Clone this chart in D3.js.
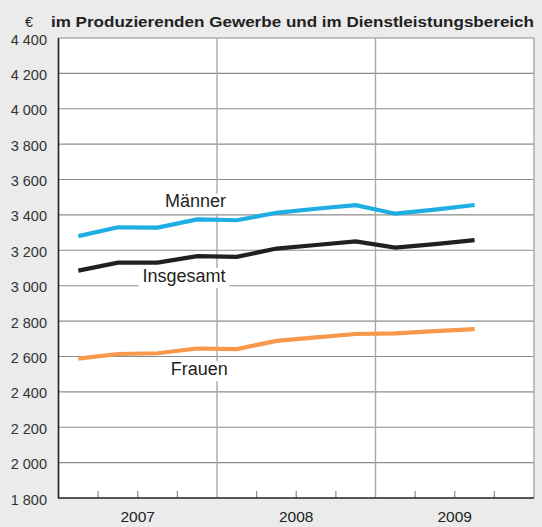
<!DOCTYPE html>
<html>
<head>
<meta charset="utf-8">
<script src="https://cdn.jsdelivr.net/npm/d3@7"></script>
<style>
  html, body { margin: 0; padding: 0; background: #ebebeb; }
  svg { display: block; font-family: "Liberation Sans", Arial, Helvetica, sans-serif; }
</style>
</head>
<body>
<svg id="chart" width="542" height="527"></svg>
<script>
// Quarterly earnings, Q1 2007 – Q3 2009
const quarters = ["2007Q1","2007Q2","2007Q3","2007Q4","2008Q1","2008Q2","2008Q3","2008Q4","2009Q1","2009Q2","2009Q3"];
const maenner   = [3280, 3330, 3328, 3375, 3370, 3412, 3435, 3455, 3407, 3430, 3456];
const insgesamt = [3085, 3130, 3130, 3167, 3163, 3210, 3230, 3250, 3215, 3235, 3258];
const frauen    = [2588, 2614, 2618, 2645, 2642, 2688, 2708, 2727, 2730, 2743, 2754];
const years = ["2007", "2008", "2009"];
const yTicks = [1800, 2000, 2200, 2400, 2600, 2800, 3000, 3200, 3400, 3600, 3800, 4000, 4200, 4400];
const title = "im Produzierenden Gewerbe und im Dienstleistungsbereich";
const unit = "€";

// label anchor: quarter position (x) and baseline value (y)
const series = [
  { name: "Männer",    values: maenner,   color: "#1eaee3", label: { q: 3.46, v: 3442 } },
  { name: "Insgesamt", values: insgesamt, color: "#231f20", label: { q: 3.17, v: 3021 } },
  { name: "Frauen",    values: frauen,    color: "#f7984a", label: { q: 3.55, v: 2495 } }
];

const svg = d3.select("#chart");
const m = { left: 58.5, right: 534, top: 38, bottom: 498 };

// x: continuous quarter index, 0 = start of 2007, 12 = end of 2009
const x = d3.scaleLinear().domain([0, 12]).range([m.left, m.right]);
const y = d3.scaleLinear().domain([1800, 4400]).range([m.bottom, m.top]);

// plot area
svg.append("rect")
  .attr("x", m.left).attr("y", m.top)
  .attr("width", m.right - m.left).attr("height", m.bottom - m.top)
  .attr("fill", "#ffffff");

// horizontal grid
svg.append("g").selectAll("line").data(yTicks.slice(1)).join("line")
  .attr("x1", m.left).attr("x2", m.right)
  .attr("y1", d => y(d)).attr("y2", d => y(d))
  .attr("stroke", "#8c8c8c").attr("stroke-width", 1.1);

// year separators and right border
svg.append("g").selectAll("line").data([4, 8, 12]).join("line")
  .attr("x1", d => x(d)).attr("x2", d => x(d))
  .attr("y1", m.top).attr("y2", m.bottom)
  .attr("stroke", "#a8a8a8").attr("stroke-width", 1.4);

// quarter ticks on the bottom axis
const qt = d3.range(1, 12).filter(d => d % 4 !== 0);
svg.append("g").selectAll("line").data(qt).join("line")
  .attr("x1", d => x(d)).attr("x2", d => x(d))
  .attr("y1", m.bottom).attr("y2", m.bottom - 7)
  .attr("stroke", "#8c8c8c").attr("stroke-width", 1.2);

// axes lines
svg.append("line").attr("x1", m.left).attr("x2", m.left).attr("y1", m.top).attr("y2", m.bottom + 0.5)
  .attr("stroke", "#231f20").attr("stroke-width", 1.6);
svg.append("line").attr("x1", m.left).attr("x2", m.right).attr("y1", m.bottom).attr("y2", m.bottom)
  .attr("stroke", "#231f20").attr("stroke-width", 1.6);

// y tick labels
const fmt = v => d3.format(",")(v).replace(/,/g, " ");
svg.append("g").selectAll("text").data(yTicks).join("text")
  .attr("x", 47).attr("y", d => y(d))
  .attr("dy", "0.45em")
  .attr("text-anchor", "end")
  .attr("font-size", 14.5)
  .attr("fill", "#333")
  .text(fmt);

// year labels
svg.append("g").selectAll("text").data(years).join("text")
  .attr("x", (d, i) => x(i * 4 + 2)).attr("y", 522)
  .attr("text-anchor", "middle")
  .attr("font-size", 15.5)
  .attr("fill", "#222")
  .text(d => d);

// title
svg.append("text").attr("x", 29).attr("y", 27).attr("text-anchor", "middle")
  .attr("font-size", 14.5).attr("fill", "#222").text(unit);
svg.append("text").attr("x", 51).attr("y", 27)
  .attr("font-size", 15).attr("font-weight", "bold").attr("fill", "#222")
  .attr("textLength", 483).attr("lengthAdjust", "spacingAndGlyphs")
  .text(title);

// lines: points at quarter midpoints
const line = d3.line().x((d, i) => x(i + 0.5)).y(d => y(d));
svg.append("g").selectAll("path").data(series).join("path")
  .attr("d", d => line(d.values))
  .attr("fill", "none")
  .attr("stroke", d => d.color)
  .attr("stroke-width", 4.2)
  .attr("stroke-linejoin", "miter");

// series labels on white boxes
series.forEach(s => {
  const g = svg.append("g");
  const t = g.append("text")
    .attr("x", x(s.label.q)).attr("y", y(s.label.v))
    .attr("text-anchor", "middle")
    .attr("font-size", 18)
    .attr("fill", "#231f20")
    .text(s.name);
  const b = t.node().getBBox();
  g.insert("rect", "text")
    .attr("x", b.x - 4).attr("y", b.y + 2)
    .attr("width", b.width + 8).attr("height", b.height)
    .attr("fill", "#ffffff");
});
</script>
</body>
</html>
